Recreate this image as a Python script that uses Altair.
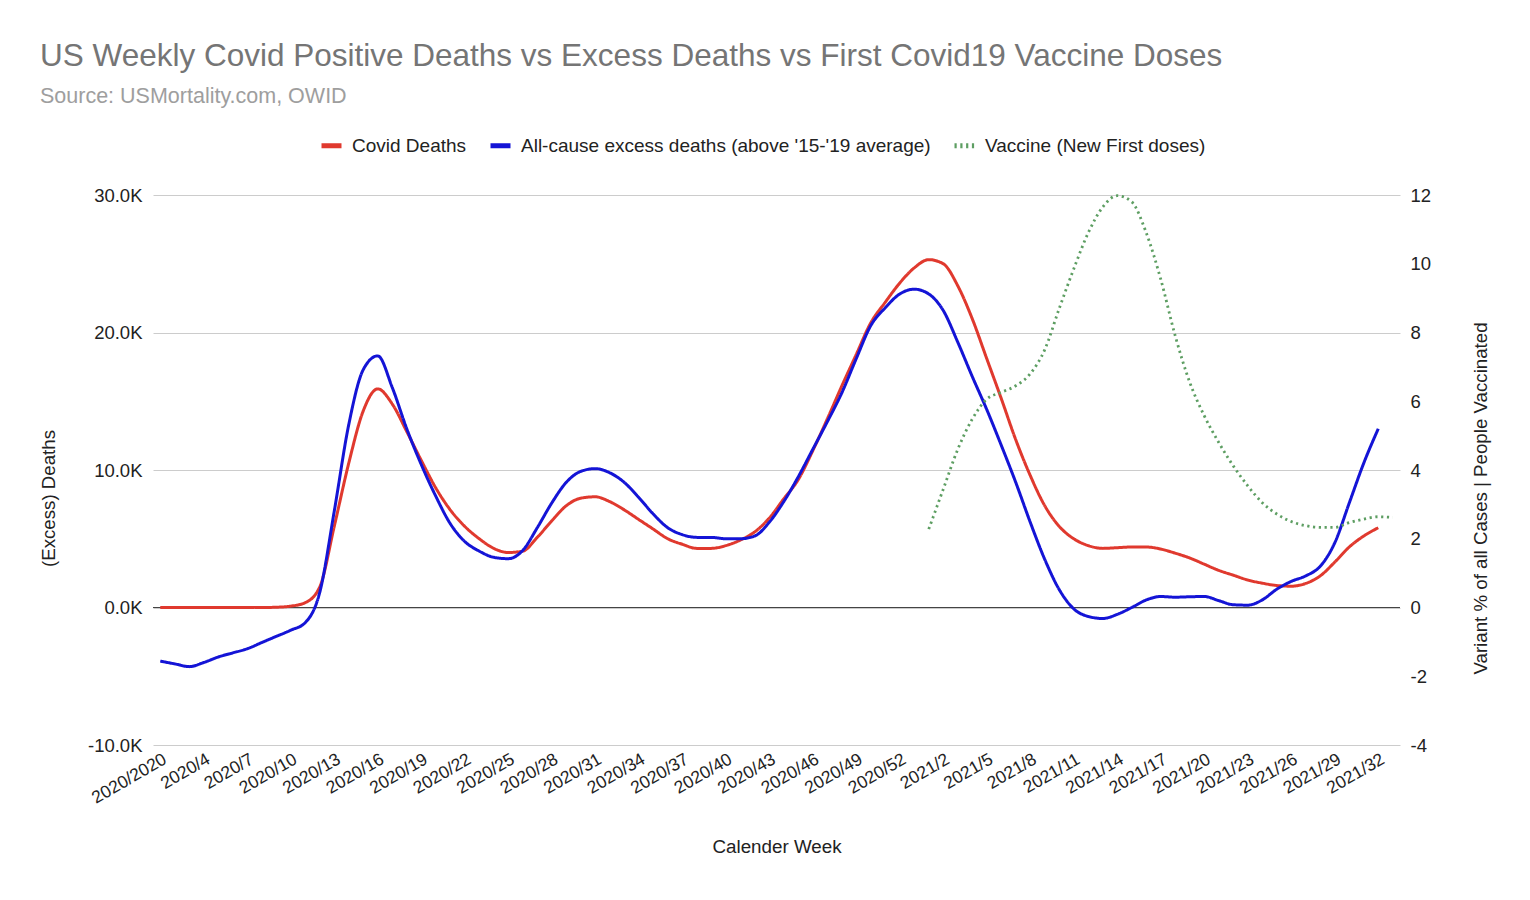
import altair as alt
import pandas as pd

FONT = "Liberation Sans"

# Categories: calendar weeks (first label is shown as "2020/2020" in the source)
weeks = ["2020/2020"] + [f"2020/{w}" for w in range(2, 54)] + [f"2021/{w}" for w in range(1, 34)]
tick_weeks = weeks[0::3]

S_COVID = "Covid Deaths"
S_EXCESS = "All-cause excess deaths (above '15-'19 average)"
S_VAX = "Vaccine (New First doses)"

# Weekly Covid deaths (thousands), 2020/1 .. 2021/32
covid_deaths_k = [
    0.0, 0.0, 0.0, 0.0, 0.0, 0.0, 0.0, 0.0, 0.02, 0.1,
    0.35, 1.5, 5.9, 10.5, 14.3, 15.9, 14.8, 12.8, 10.7, 8.7,
    7.1, 5.9, 5.0, 4.3, 4.0, 4.1, 5.1, 6.3, 7.4, 7.95,
    8.05, 7.7, 7.1, 6.4, 5.7, 5.0, 4.6, 4.3, 4.3, 4.5,
    4.9, 5.5, 6.5, 7.9, 9.3, 11.4, 13.7, 16.1, 18.4, 20.7,
    22.2, 23.6, 24.7, 25.3, 25.0, 23.4, 21.0, 18.1, 15.2, 12.2,
    9.6, 7.4, 5.9, 5.0, 4.5, 4.3, 4.35, 4.4, 4.4, 4.25,
    3.95, 3.6, 3.15, 2.7, 2.35, 2.0, 1.77, 1.6, 1.55, 1.75,
    2.3, 3.3, 4.4, 5.2, 5.8,
]

# All-cause excess deaths (thousands), 2020/1 .. 2021/32
excess_deaths_k = [
    -3.9, -4.1, -4.3, -4.0, -3.6, -3.3, -3.0, -2.55, -2.1, -1.65,
    -1.1, 1.1, 7.0, 13.3, 17.3, 18.3, 16.0, 13.0, 10.4, 8.1,
    6.1, 4.8, 4.1, 3.65, 3.55, 4.15, 5.8, 7.6, 9.1, 9.9,
    10.1, 9.8, 9.1, 8.0, 6.8, 5.8, 5.3, 5.1, 5.1, 5.0,
    5.0, 5.2, 6.2, 7.7, 9.5, 11.5, 13.5, 15.6, 18.1, 20.5,
    21.8, 22.8, 23.15, 22.8, 21.6, 19.3, 16.8, 14.4, 11.8, 9.1,
    6.2, 3.5, 1.3, -0.1, -0.65, -0.8, -0.5, 0.0, 0.55, 0.8,
    0.75, 0.78, 0.8, 0.5, 0.2, 0.17, 0.55, 1.33, 1.9, 2.3,
    3.0, 4.7, 7.6, 10.5, 13.0,
]

# Vaccine new first doses (right axis), 2021/1 .. 2021/33
vaccine_start = 53
vaccine = [
    2.28, 3.44, 4.6, 5.48, 6.06, 6.26, 6.45, 6.8, 7.5, 8.7,
    9.85, 10.9, 11.65, 11.98, 11.8, 10.9, 9.55, 7.9, 6.55, 5.58,
    4.8, 4.12, 3.54, 3.05, 2.72, 2.5, 2.38, 2.33, 2.33, 2.47,
    2.57, 2.64, 2.62,
]

left_rows = []
for i, v in enumerate(covid_deaths_k):
    left_rows.append({"week": weeks[i], "series": S_COVID, "value": v * 1000})
for i, v in enumerate(excess_deaths_k):
    left_rows.append({"week": weeks[i], "series": S_EXCESS, "value": v * 1000})
left_df = pd.DataFrame(left_rows)

right_df = pd.DataFrame({
    "week": weeks[vaccine_start:vaccine_start + len(vaccine)],
    "series": S_VAX,
    "value": vaccine,
})

series_domain = [S_COVID, S_EXCESS, S_VAX]
color_scale = alt.Scale(domain=series_domain, range=["#e0392e", "#1414d6", "#5d9e62"])
dash_scale = alt.Scale(domain=series_domain, range=[[1, 0], [1, 0], [2.2, 3.6]])

legend = alt.Legend(
    title=None, orient="none", legendX=166, legendY=-62, direction="horizontal",
    symbolType="stroke", symbolSize=400, symbolStrokeWidth=5,
    labelFont=FONT, labelFontSize=19, labelColor="#222222", labelLimit=0,
    labelOffset=8, columnPadding=13, padding=0,
)

x_enc = alt.X(
    "week:O", sort=weeks,
    scale=alt.Scale(type="point", padding=0.5),
    axis=alt.Axis(
        values=tick_weeks, labelAngle=-30, labelAlign="right", labelBaseline="top",
        labelFont=FONT, labelFontSize=17.5, labelColor="#222222", labelPadding=5,
        labelOverlap=False, domain=False, ticks=False, grid=False,
        title="Calender Week", titleFont=FONT, titleFontSize=18.8,
        titleFontWeight="normal", titleColor="#222222",
        titleX=623.5, titleY=101, titleBaseline="middle", titleAlign="center",
    ),
)

y_left = alt.Y(
    "value:Q",
    scale=alt.Scale(domain=[-10000, 30000], nice=False, zero=False),
    axis=alt.Axis(
        values=[-10000, 0, 10000, 20000, 30000],
        labelExpr="(datum.value < 0 ? '-' : '') + format(abs(datum.value) / 1000, '.1f') + 'K'",
        labelFont=FONT, labelFontSize=18.5, labelColor="#222222", labelPadding=11,
        domain=False, ticks=False, grid=True, gridColor="#cccccc", gridWidth=1,
        title="(Excess) Deaths", titleFont=FONT, titleFontSize=18.7,
        titleFontWeight="normal", titleColor="#222222",
        titleX=-105, titleY=303, titleBaseline="middle", titleAlign="center",
    ),
)

zero_rule = alt.Chart(left_df).mark_rule(color="#444444", strokeWidth=1).encode(
    y=alt.datum(0)
)

left_lines = alt.Chart(left_df).mark_line(
    interpolate="monotone", strokeWidth=3
).encode(
    x=x_enc,
    y=y_left,
    color=alt.Color("series:N", scale=color_scale, legend=legend),
    strokeDash=alt.StrokeDash("series:N", scale=dash_scale, legend=legend),
    detail="series:N",
)

left = alt.layer(zero_rule, left_lines)

right_line = alt.Chart(right_df).mark_line(
    interpolate="monotone", strokeWidth=2.8
).encode(
    x=x_enc,
    y=alt.Y(
        "value:Q",
        scale=alt.Scale(domain=[-4, 12], nice=False, zero=False),
        axis=alt.Axis(
            orient="right", values=[-4, -2, 0, 2, 4, 6, 8, 10, 12],
            labelExpr="(datum.value < 0 ? '-' : '') + format(abs(datum.value), 'd')",
            labelFont=FONT, labelFontSize=18.5, labelColor="#222222", labelPadding=10,
            domain=False, ticks=False, grid=False,
            title="Variant % of all Cases | People Vaccinated", titleFont=FONT,
            titleFontSize=18.7, titleFontWeight="normal", titleColor="#222222",
            titleAngle=270, titleX=80, titleY=303, titleBaseline="middle",
            titleAlign="center",
        ),
    ),
    color=alt.Color("series:N", scale=color_scale, legend=legend),
    strokeDash=alt.StrokeDash("series:N", scale=dash_scale, legend=legend),
)

chart = alt.layer(left, right_line).resolve_scale(y="independent").properties(
    width=1247,
    height=550,
    autosize=alt.AutoSizeParams(type="none"),
    padding={"left": 145, "top": 187, "right": 122, "bottom": 147},
    background="white",
    title=alt.TitleParams(
        text="US Weekly Covid Positive Deaths vs Excess Deaths vs First Covid19 Vaccine Doses",
        subtitle="Source: USMortality.com, OWID",
        anchor="start", frame="group", dx=-113,
        font=FONT, fontSize=31.5, fontWeight="normal", color="#757575",
        subtitleFont=FONT, subtitleFontSize=21.5, subtitleColor="#9e9e9e",
        subtitlePadding=13, offset=26,
    ),
).configure_view(stroke=None)

chart.save("out.html", embed_options={"renderer": "svg", "actions": False})
